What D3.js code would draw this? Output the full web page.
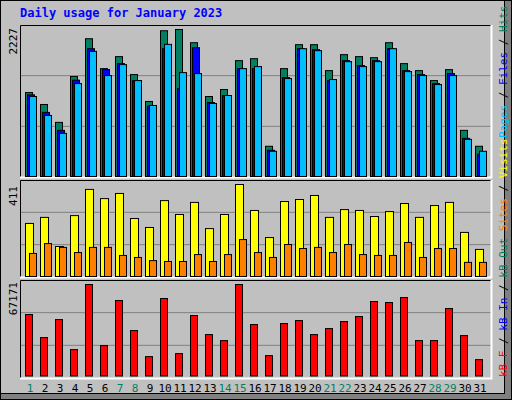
<!DOCTYPE html><html><head><meta charset="utf-8">
<script src="https://cdn.jsdelivr.net/npm/d3@7"></script>
<style>body{margin:0;background:#fff}</style></head><body>
<svg id="c" width="512" height="400"></svg>
<script>
const days=d3.range(1,32);
const weekend=[1,7,8,14,15,21,22,28,29];
const hits=[1272,1091,820,1514,2087,1634,1816,1544,1137,2208,2227,2027,1212,1318,1755,1785,458,1634,1997,1997,1604,1846,1816,1800,2027,1710,1604,1453,1619,699,458];
const files=[1237,971,699,1459,1936,1619,1710,1453,1066,1936,1333,1951,1121,1227,1634,1634,397,1499,1936,1921,1453,1755,1680,1755,1936,1604,1544,1408,1559,578,337];
const pages=[1212,925,654,1408,1896,1529,1695,1453,1076,2002,1574,1559,1106,1227,1634,1665,382,1484,1936,1906,1469,1740,1665,1740,1936,1589,1529,1393,1529,563,382];
const visits=[237,264,134,272,389,348,371,259,219,339,277,331,214,277,411,295,174,335,344,362,264,299,295,268,290,326,264,317,331,197,121];
const sites=[103,147,130,107,130,130,94,85,71,67,67,98,67,98,165,107,85,143,125,130,107,143,98,94,94,152,85,125,125,63,63];
const kbytes=[45108,28192,41430,19367,67171,22309,55404,33340,14219,56875,16425,44372,30399,25986,67171,37753,14954,38489,40695,30399,34811,39959,43637,54668,53933,57610,25986,26000,49520,29663,12012];
const F="'DejaVu Sans Mono',monospace";
const svg=d3.select("#c");
// frame
svg.append("rect").attr("x",0).attr("y",0).attr("width",512).attr("height",400).attr("fill","#808080");
svg.append("rect").attr("x",0.5).attr("y",0.5).attr("width",504).attr("height",393).attr("fill","#C0C0C0").attr("stroke","#000");
svg.append("rect").attr("x",0.5).attr("y",0.5).attr("width",511).attr("height",399).attr("fill","none").attr("stroke","#000");
svg.append("text").attr("x",20).attr("y",17).attr("font-family",F).attr("font-weight","bold").attr("font-size",12).attr("fill","#0000FF").text("Daily usage for January 2023");
const x=d3.scaleBand().domain(days).range([20,492]).paddingInner(0);
// x0 for day d: 25 + 15*(d-1)
const xs=d=>25+15*(d-1);
function panel(top,bot){
  svg.append("rect").attr("x",20).attr("y",top).attr("width",472).attr("height",bot-top).attr("fill","#C0C0C0");
  const h=bot-top;
  [1/3,2/3].forEach(f=>svg.append("line").attr("x1",20).attr("x2",492).attr("y1",top+h*f).attr("y2",top+h*f).attr("stroke","#808080"));
  svg.append("path").attr("d",`M20.5,${bot}V${top+0.5}H491.5`).attr("fill","none").attr("stroke","#000");
  svg.append("path").attr("d",`M20,${bot+0.5}H491.5V${top}`).attr("fill","none").attr("stroke","#fff").attr("stroke-width",2);
}
function bars(vals,y,base,off,w,col){
  svg.append("g").selectAll("rect").data(vals).join("rect")
   .attr("x",(v,i)=>xs(i+1)+off+0.5).attr("y",v=>y(v)+0.5).attr("width",w).attr("height",v=>base-y(v))
   .attr("fill",col).attr("stroke","#000");
}
function vlabel(txt,cx,cy){
  svg.append("text").attr("transform",`translate(${cx},${cy}) rotate(-90)`).attr("text-anchor","end")
   .attr("font-family",F).attr("font-size",11).attr("fill","#000").text(txt);
}
// top
panel(25,177);
const y1=d3.scaleLinear().domain([0,2227]).range([176,29]);
bars(hits,y1,176,0,7,"#008060");
bars(files,y1,176,2,7,"#0000FF");
bars(pages,y1,176,4,7,"#00C0FF");
vlabel("2227",17,28);
// middle
panel(180,277);
const y2=d3.scaleLinear().domain([0,411]).range([276,184]);
bars(visits,y2,276,0,8,"#FFFF00");
bars(sites,y2,276,4,7,"#FF8000");
vlabel("411",17,186);
// bottom
panel(280,378);
const y3=d3.scaleLinear().domain([0,67171]).range([375.5,284]);
bars(kbytes,y3,375.5,0,7,"#FF0000");
vlabel("67171",17,282);
// day labels
svg.append("g").selectAll("text").data(days).join("text")
 .attr("x",d=>xs(d)+5).attr("y",392).attr("text-anchor","middle").attr("font-family",F).attr("font-size",11)
 .attr("fill",d=>weekend.includes(d)?"#008060":"#000").text(d=>d);
// right legends
function rlegend(parts,cx,cy){
  const t=svg.append("text").attr("transform",`translate(${cx},${cy}) rotate(-90)`).attr("text-anchor","start")
   .attr("font-family",F).attr("font-size",11);
  parts.forEach(p=>t.append("tspan").attr("fill",p[1]).text(p[0]));
}
rlegend([["Pages","#00C0FF"],[" / ","#000"],["Files","#0000FF"],[" / ","#000"],["Hits","#008060"]],507,138);
rlegend([["kB F","#FF0000"],[" / ","#000"],["kB In","#0000FF"],[" / ","#000"],["kB Out","#008060"],[" ","#000"],["Sites","#FF8000"],[" / ","#000"],["Visits","#FFFF00"]],507,377);
</script></body></html>
